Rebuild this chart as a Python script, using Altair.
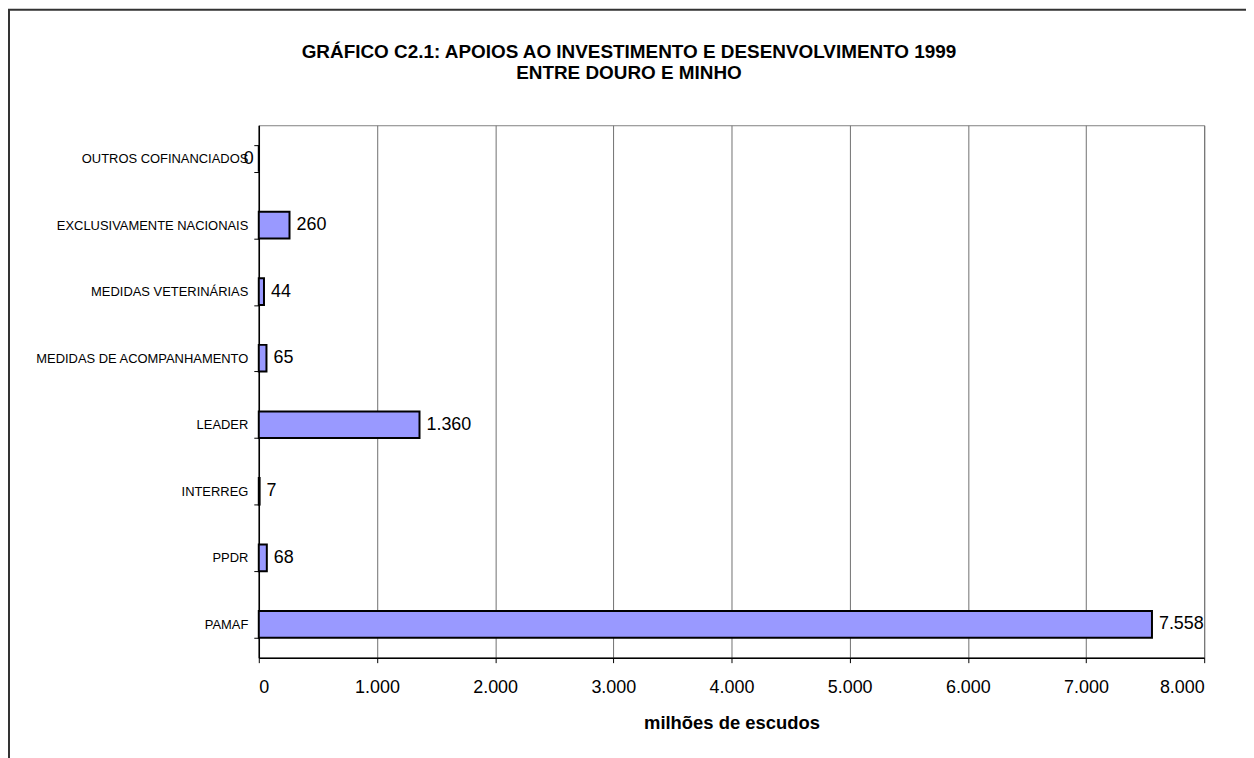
import altair as alt
import pandas as pd

categories = [
    "OUTROS COFINANCIADOS",
    "EXCLUSIVAMENTE NACIONAIS",
    "MEDIDAS VETERINÁRIAS",
    "MEDIDAS DE ACOMPANHAMENTO",
    "LEADER",
    "INTERREG",
    "PPDR",
    "PAMAF",
]
values = [0, 260, 44, 65, 1360, 7, 68, 7558]
x_ticks = [0, 1000, 2000, 3000, 4000, 5000, 6000, 7000, 8000]
title_lines = ["GRÁFICO C2.1: APOIOS AO INVESTIMENTO E DESENVOLVIMENTO 1999", "ENTRE DOURO E MINHO"]
x_title = "milhões de escudos"

FONT = "Liberation Sans"
df = pd.DataFrame({"categoria": categories, "valor": values})

fmt = "replace(format(datum.valor, ','), ',', '.')"

y_enc = alt.Y(
    "categoria:N",
    sort=categories,
    scale=alt.Scale(paddingInner=0.6, paddingOuter=0.3),
    axis=alt.Axis(
        title=None,
        tickBand="extent",
        domainColor="black",
        domainWidth=1.5,
        tickColor="black",
        tickWidth=1,
        tickSize=5,
        labelFont=FONT,
        labelFontSize=13,
        labelColor="black",
        labelPadding=6,
        labelLimit=400,
        grid=False,
    ),
)
x_enc = alt.X(
    "valor:Q",
    scale=alt.Scale(domain=[0, 8000], nice=False),
    axis=alt.Axis(
        values=x_ticks,
        title=x_title,
        titleFont=FONT,
        titleFontSize=18.5,
        titleFontWeight="bold",
        titleColor="black",
        titlePadding=17,
        labelExpr="replace(format(datum.value, ','), ',', '.')",
        labelFont=FONT,
        labelFontSize=18,
        labelColor="black",
        labelPadding=16,
        domainColor="black",
        domainWidth=1.5,
        tickColor="black",
        tickSize=5,
        grid=True,
        gridColor="#707070",
        gridWidth=1,
    ),
)

base = alt.Chart(df)

frame = alt.Chart(alt.Data(values=[{}])).mark_rect(
    fill=None, stroke="#333333", strokeWidth=2
).encode(
    x=alt.value(-251), x2=alt.value(1010), y=alt.value(-116), y2=alt.value(720)
)

bars = base.mark_bar(fill="#9999FF", stroke="black", strokeWidth=2).encode(x=x_enc, y=y_enc)

labels = base.transform_filter("datum.valor > 0").transform_calculate(
    label=fmt
).mark_text(align="left", baseline="middle", dx=7, font=FONT, fontSize=18, color="black").encode(
    x="valor:Q", y=alt.Y("categoria:N", sort=categories), text="label:N"
)

zero_labels = base.transform_filter("datum.valor == 0").transform_calculate(
    label=fmt
).mark_text(align="left", baseline="middle", dx=-15, font=FONT, fontSize=18, color="black").encode(
    x="valor:Q", y=alt.Y("categoria:N", sort=categories), text="label:N"
)

chart = alt.layer(frame, bars, labels, zero_labels).properties(
    width=950,
    height=535,
    padding={"left": 252, "top": 116, "right": 42, "bottom": 99},
    autosize=alt.AutoSizeParams(type="none"),
    title=alt.TitleParams(
        text=title_lines,
        font=FONT,
        fontSize=19,
        fontWeight="bold",
        color="black",
        anchor="middle",
        frame="group",
        dx=-103,
        offset=-75,
        lineHeight=22,
    ),
).configure_view(stroke="#808080", strokeWidth=1)

chart.save("out.html", embed_options={"renderer": "svg", "actions": False})
